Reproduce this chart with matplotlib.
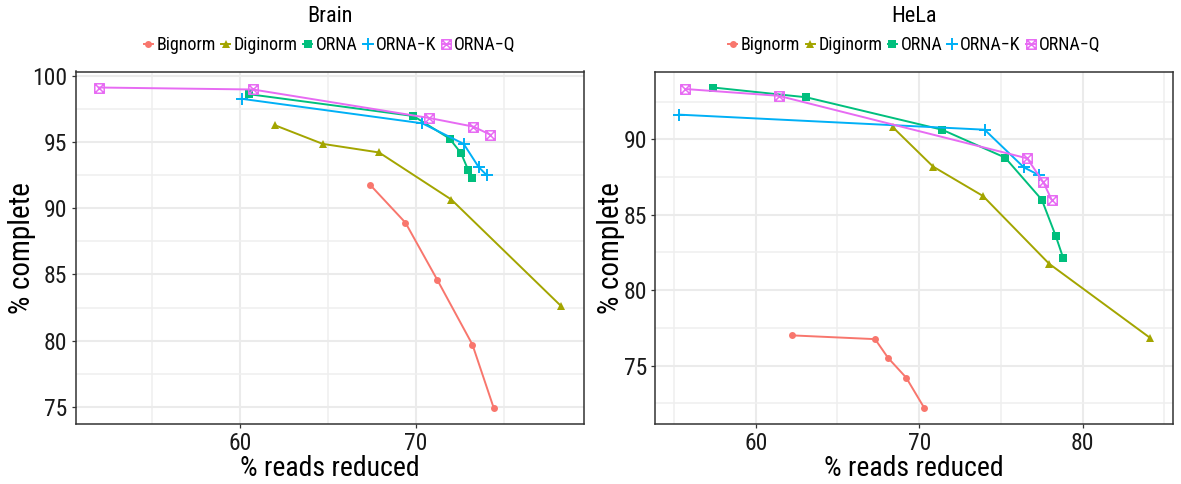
import matplotlib
matplotlib.use("Agg")
import matplotlib.pyplot as plt
from matplotlib.path import Path
from matplotlib.ticker import MultipleLocator
import matplotlib.font_manager as fm

# ---------------- data ----------------
methods = ["Bignorm", "Diginorm", "ORNA", "ORNA\u2212K", "ORNA\u2212Q"]
colors = ["#F8766D", "#A3A500", "#00BF7D", "#00B0F6", "#E76BF3"]

brain_bignorm_x = [67.4, 69.4, 71.2, 73.2, 74.4]
brain_bignorm_y = [91.75, 88.9, 84.6, 79.7, 74.95]
brain_diginorm_x = [62.0, 64.7, 67.9, 72.0, 78.2]
brain_diginorm_y = [96.25, 94.85, 94.2, 90.65, 82.65]
brain_orna_x = [60.5, 69.85, 71.9, 72.55, 72.95, 73.15]
brain_orna_y = [98.6, 96.95, 95.25, 94.15, 92.9, 92.25]
brain_ornak_x = [60.1, 70.35, 72.7, 73.55, 74.0]
brain_ornak_y = [98.25, 96.4, 94.85, 93.1, 92.5]
brain_ornaq_x = [52.0, 60.75, 70.75, 73.25, 74.2]
brain_ornaq_y = [99.1, 98.95, 96.8, 96.15, 95.55]

hela_bignorm_x = [62.2, 67.3, 68.1, 69.2, 70.3]
hela_bignorm_y = [77.0, 76.75, 75.5, 74.2, 72.2]
hela_diginorm_x = [68.4, 70.85, 73.9, 77.95, 84.1]
hela_diginorm_y = [90.8, 88.2, 86.25, 81.75, 76.85]
hela_orna_x = [57.4, 63.1, 71.4, 75.25, 77.5, 78.35, 78.8]
hela_orna_y = [93.45, 92.8, 90.65, 88.8, 86.0, 83.6, 82.15]
hela_ornak_x = [55.3, 74.0, 76.4, 77.3]
hela_ornak_y = [91.65, 90.65, 88.15, 87.65]
hela_ornaq_x = [55.7, 61.4, 76.6, 77.6, 78.1]
hela_ornaq_y = [93.35, 92.9, 88.75, 87.15, 86.0]

brain = [(brain_bignorm_x, brain_bignorm_y), (brain_diginorm_x, brain_diginorm_y),
         (brain_orna_x, brain_orna_y), (brain_ornak_x, brain_ornak_y),
         (brain_ornaq_x, brain_ornaq_y)]
hela = [(hela_bignorm_x, hela_bignorm_y), (hela_diginorm_x, hela_diginorm_y),
        (hela_orna_x, hela_orna_y), (hela_ornak_x, hela_ornak_y),
        (hela_ornaq_x, hela_ornaq_y)]
panel_titles = ["Brain", "HeLa"]

# ---------------- style ----------------
avail = {f.name for f in fm.fontManager.ttflist}
narrow = "Liberation Sans"
for cand in ["Liberation Sans Narrow", "Arimo Narrow", "Roboto Condensed",
             "Archivo Narrow", "PT Sans Narrow", "Liberation Sans"]:
    if cand in avail:
        narrow = cand
        break
plt.rcParams["font.family"] = [narrow, "DejaVu Sans"]

sqx = Path([(-1, -1), (1, -1), (1, 1), (-1, 1), (-1, -1), (-1, -1), (1, 1), (-1, 1), (1, -1)],
           [Path.MOVETO, Path.LINETO, Path.LINETO, Path.LINETO, Path.CLOSEPOLY,
            Path.MOVETO, Path.LINETO, Path.MOVETO, Path.LINETO])
mstyles = [
    dict(marker="o", ms=5.0, mew=0),
    dict(marker="^", ms=6.2, mew=0),
    dict(marker="s", ms=5.4, mew=0),
    dict(marker="+", ms=9.0, mew=1.4),
    dict(marker=sqx, ms=6.8, mfc="none", mew=1.1),
]

W, H = 1181, 484
fig = plt.figure(figsize=(W / 100, H / 100), dpi=100)

panels = [
    dict(data=brain, box=(75.7, 583.7), ylab_off=54),
    dict(data=hela, box=(655.3, 1173.3), ylab_off=44),
]
top_px, bot_px = 71.5, 423.7

for pi, p in enumerate(panels):
    x0, x1 = p["box"]
    ax = fig.add_axes([x0 / W, 1 - bot_px / H, (x1 - x0) / W, (bot_px - top_px) / H])
    allx, ally = [], []
    handles = []
    for i, (xs, ys) in enumerate(p["data"]):
        h, = ax.plot(xs, ys, color=colors[i], lw=1.4, mec=colors[i],
                     label=methods[i], zorder=3, **mstyles[i])
        handles.append(h)
        allx += xs
        ally += ys
    # ggplot-like 5% expansion
    xr = max(allx) - min(allx)
    yr = max(ally) - min(ally)
    ax.set_xlim(min(allx) - 0.05 * xr, max(allx) + 0.05 * xr)
    ax.set_ylim(min(ally) - 0.05 * yr, max(ally) + 0.05 * yr)

    ax.xaxis.set_major_locator(MultipleLocator(10))
    ax.xaxis.set_minor_locator(MultipleLocator(5))
    ax.yaxis.set_major_locator(MultipleLocator(5))
    ax.yaxis.set_minor_locator(MultipleLocator(2.5))
    ax.grid(which="major", color="#EBEBEB", lw=1.5, zorder=0)
    ax.grid(which="minor", color="#EFEFEF", lw=1.1, zorder=0)
    ax.set_axisbelow(True)
    ax.tick_params(which="minor", length=0)
    ax.tick_params(which="major", length=3, width=0.9, color="#333333",
                   labelsize=17, labelcolor="#1a1a1a", pad=3)
    for s in ax.spines.values():
        s.set_color("#333333")
        s.set_linewidth(1.1)

    cx = (x0 + x1) / 2
    fig.text(cx / W, 1 - 16 / H, panel_titles[pi], ha="center", va="center",
             fontsize=16, color="black")
    ax.legend(handles=handles, loc="center", bbox_to_anchor=(cx / W, 1 - 45 / H),
              bbox_transform=fig.transFigure, ncol=5, frameon=False, fontsize=13,
              handlelength=0.5, handletextpad=0.2, columnspacing=0.3,
              borderpad=0, borderaxespad=0)
    fig.text(cx / W, 1 - 468 / H, "% reads reduced", ha="center", va="center",
             fontsize=20, color="black")
    fig.text((x0 - p["ylab_off"]) / W, 1 - (top_px + bot_px) / 2 / H, "% complete",
             ha="center", va="center", rotation=90, fontsize=21, color="black")

fig.savefig("out.png", dpi=100)
